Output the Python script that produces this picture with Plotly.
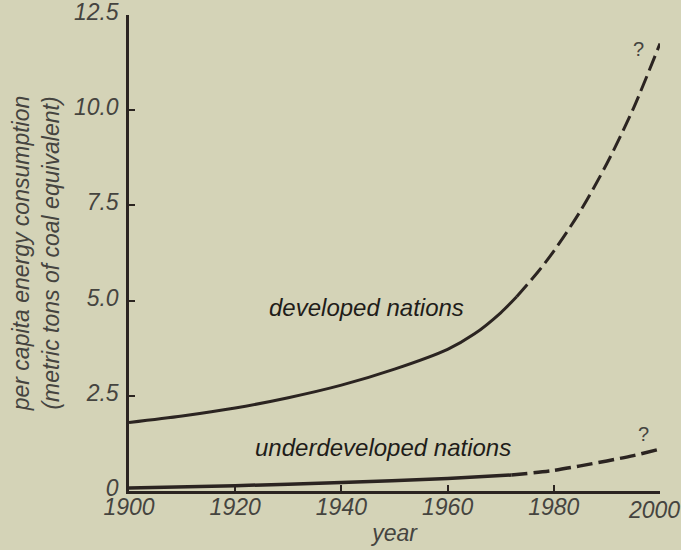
import plotly.graph_objects as go

# ---- data ----
dev_years_solid = [1900, 1910, 1920, 1930, 1940, 1950, 1960, 1965, 1970, 1973]
dev_vals_solid = [1.80, 1.97, 2.18, 2.45, 2.78, 3.20, 3.72, 4.12, 4.68, 5.10]
dev_years_dash = [1973, 1977, 1980, 1985, 1990, 1995, 2000]
dev_vals_dash = [5.10, 5.75, 6.30, 7.35, 8.60, 10.05, 11.75]

und_years_solid = [1900, 1920, 1940, 1960, 1972]
und_vals_solid = [0.08, 0.14, 0.22, 0.33, 0.42]
und_years_dash = [1972, 1980, 1985, 1990, 1995, 2000]
und_vals_dash = [0.42, 0.54, 0.66, 0.79, 0.93, 1.10]

x_ticks = [1900, 1920, 1940, 1960, 1980, 2000]
x_tick_text = ["1900", "1920", "1940", "1960", "1980", ""]
x_end_tick = 2000
x_end_text = "2000"
y_ticks = [0, 2.5, 5.0, 7.5, 10.0, 12.5]
y_tick_text = ["0", "2.5", "5.0", "7.5", "10.0", "12.5"]

BG = "#d4d3b7"
INK = "#2b2421"
TXT = "#45443f"
FONT = "Liberation Sans"

fig = go.Figure()
fig.add_trace(go.Scatter(x=dev_years_solid, y=dev_vals_solid, mode="lines",
                         line=dict(color=INK, width=3, shape="spline", smoothing=0.8),
                         showlegend=False, hoverinfo="skip"))
fig.add_trace(go.Scatter(x=dev_years_dash, y=dev_vals_dash, mode="lines",
                         line=dict(color=INK, width=3, shape="spline", smoothing=0.8,
                                   dash="16px,6px"),
                         showlegend=False, hoverinfo="skip"))
fig.add_trace(go.Scatter(x=und_years_solid, y=und_vals_solid, mode="lines",
                         line=dict(color=INK, width=3.5, shape="spline", smoothing=0.8),
                         showlegend=False, hoverinfo="skip"))
fig.add_trace(go.Scatter(x=und_years_dash, y=und_vals_dash, mode="lines",
                         line=dict(color=INK, width=3.5, shape="spline", smoothing=0.8,
                                   dash="16px,6px"),
                         showlegend=False, hoverinfo="skip"))

tfont = dict(family=FONT, size=23, color=TXT, style="italic")
afont = dict(family=FONT, size=24, color="#1f1d1a", style="italic")
fig.add_annotation(x=1944.8, y=4.83, text="developed nations", showarrow=False, font=afont)
fig.add_annotation(x=1947.8, y=1.13, text="underdeveloped nations", showarrow=False, font=afont)
qfont = dict(family=FONT, size=20, color=TXT)
fig.add_annotation(x=1995.9, y=11.6, text="?", showarrow=False, font=qfont)
fig.add_annotation(x=1996.8, y=1.5, text="?", showarrow=False, font=qfont)
# end-of-axis year label, nudged left so it stays inside the picture
fig.add_annotation(x=x_end_tick, xref="x", y=0, yref="paper", yanchor="top",
                   xanchor="center", xshift=-6, yshift=-4, text=x_end_text,
                   showarrow=False, font=tfont)

fig.update_layout(
    width=681, height=550,
    margin=dict(l=129, r=21, t=15, b=59, autoexpand=False),
    paper_bgcolor=BG, plot_bgcolor=BG,
    xaxis=dict(range=[1900, 2000], tickvals=x_ticks, ticktext=x_tick_text,
               ticks="inside", ticklen=6,
               tickwidth=2, tickcolor=INK, showline=True, linecolor=INK, linewidth=2.5,
               showgrid=False, zeroline=False, tickfont=tfont, ticklabeloverflow="allow",
               ticklabelstandoff=-6, automargin=False,
               title=dict(text="year", font=tfont, standoff=6)),
    yaxis=dict(range=[0, 12.5], tickvals=y_ticks, ticktext=y_tick_text, ticks="inside",
               ticklen=6, tickwidth=2, tickcolor=INK, showline=True, linecolor=INK,
               linewidth=2.5, showgrid=False, zeroline=False, tickfont=tfont,
               ticklabelstandoff=3, ticklabelshift=-3, ticklabeloverflow="allow",
               automargin=False,
               title=dict(text="per capita energy consumption<br>(metric tons of coal equivalent)",
                          font=tfont, standoff=8)),
)

fig.write_html(
    "out.html",
    config={"displayModeBar": False},
    post_script="document.body.style.margin='0px';"
                "document.body.style.background='" + BG + "';",
)
